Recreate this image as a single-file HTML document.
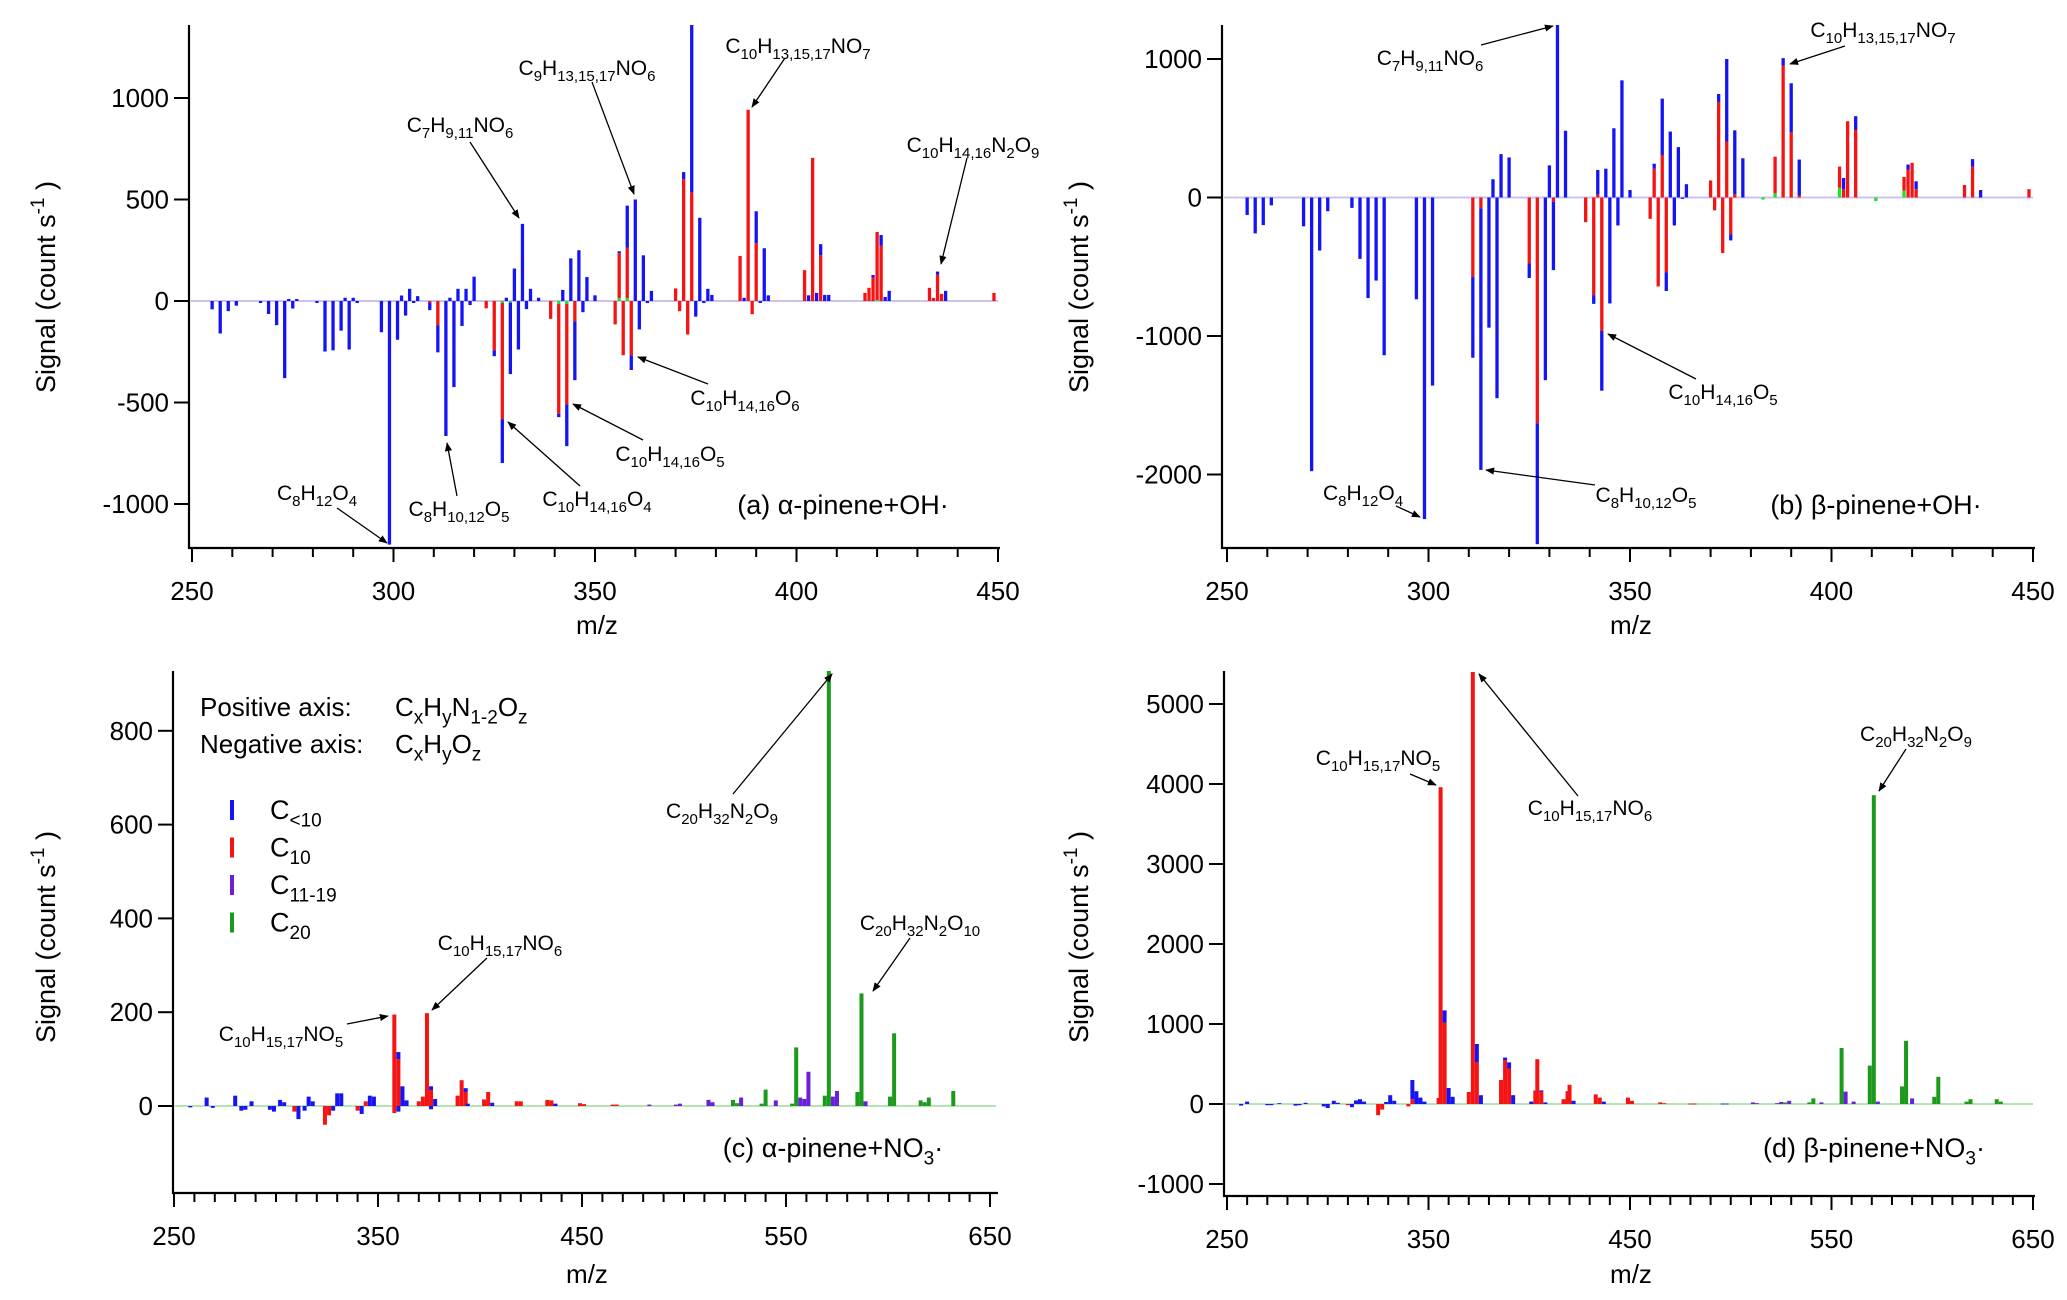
<!DOCTYPE html>
<html><head><meta charset="utf-8"><title>Mass spectra</title>
<style>
html,body{margin:0;padding:0;background:#fff;}
svg{display:block;font-family:"Liberation Sans",Arial,sans-serif;}
.ann{font-family:"Liberation Sans Narrow","Liberation Sans",sans-serif;}
</style></head>
<body>
<svg id="fig" width="2067" height="1300" viewBox="0 0 2067 1300" xmlns="http://www.w3.org/2000/svg">
<defs>
<marker id="ah" viewBox="0 0 10 10" refX="9" refY="5" markerWidth="9" markerHeight="9" orient="auto-start-reverse" markerUnits="userSpaceOnUse">
<path d="M0,1 L10,5 L0,9 Z" fill="#000"/>
</marker>
</defs>
</svg>
<script>
// ---------- panel (a) alpha-pinene + OH ----------
const aBlue = [[255,-41],[257,-160],[259,-50],[261,-23],[267,-10],[269,-64],[271,-119],[273,-380],[274,10],[275,-37],[276,10],[281,-10],[283,-249],[285,-243],[287,-146],[288,16],[289,-239],[290,16],[291,-10],[297,-154],[299,-1200],[301,-191],[302,27],[303,-72],[304,60],[305,-10],[306,24],[309,-35],[311,-134],[313,-665],[314,16],[315,-424],[316,60],[317,-123],[318,60],[319,-20],[320,120],[325,-29],[327,-216],[328,16],[329,-352],[330,160],[331,-239],[332,380],[333,-40],[334,60],[336,16],[341,-16],[342,55],[343,-206],[344,210],[345,-290],[346,250],[347,-55],[348,118],[350,28],[356,10],[358,208],[359,-73],[360,500],[361,-140],[362,225],[363,-10],[364,50],[372,35],[374,825],[375,-77],[376,410],[377,-10],[378,60],[379,30],[387,16],[390,157],[391,-10],[392,260],[393,28],[403,28],[405,40],[406,54],[407,30],[408,30],[419,13],[421,53],[422,20],[423,50],[435,15],[437,50]];
const aRed = [[309,-10],[311,-119],[323,-36],[325,-243],[327,-572],[339,-88],[341,-541],[343,-494],[345,-100],[355,-115],[356,220],[357,-267],[358,247],[359,-267],[370,62],[371,-50],[372,600],[373,-165],[374,535],[386,222],[388,942],[389,-65],[390,285],[402,152],[404,705],[406,226],[417,40],[418,65],[419,115],[420,335],[421,272],[433,65],[434,15],[435,130],[436,35],[449,40]];
const aPurple = [];
const aGreen = [[327,-10],[329,-8],[341,-15],[343,-15],[356,15],[358,15],[420,5]];
const aYTicks = [-1000,-500,0,500,1000];
const aXTicks = [250,300,350,400,450];

// ---------- panel (b) beta-pinene + OH ----------
const bBlue = [[255,-126],[257,-259],[259,-199],[261,-57],[269,-208],[271,-1976],[273,-383],[275,-99],[281,-75],[283,-443],[285,-726],[287,-600],[289,-1139],[297,-735],[299,-2322],[301,-1358],[311,-585],[313,-1889],[315,-940],[316,132],[317,-1449],[318,313],[320,289],[325,-105],[327,-873],[329,-1319],[330,232],[331,-494],[332,1247],[334,482],[341,-63],[342,179],[343,-431],[344,208],[345,-765],[346,500],[347,-202],[348,846],[350,54],[356,36],[358,407],[359,-136],[360,476],[361,-202],[362,364],[363,-10],[364,96],[372,57],[374,596],[375,-45],[376,461],[378,283],[388,54],[390,355],[392,259],[403,81],[406,99],[419,36],[421,57],[435,54],[437,54]];
const bRed = [[311,-572],[313,-78],[325,-476],[327,-1630],[331,-30],[339,-178],[341,-705],[342,20],[343,-964],[355,-154],[356,208],[357,-642],[358,307],[359,-539],[370,123],[371,-93],[372,690],[373,-401],[374,404],[375,-265],[376,24],[386,265],[388,952],[390,470],[392,15],[402,153],[403,60],[404,551],[406,488],[418,98],[419,202],[420,250],[421,60],[433,90],[435,223],[449,60]];
const bPurple = [];
const bGreen = [[383,-15],[386,30],[402,70],[411,-25],[418,50]];
const bYTicks = [-2000,-1000,0,1000];
const bXTicks = [250,300,350,400,450];

// ---------- panel (c) alpha-pinene + NO3 ----------
const cBlue = [[258,-3],[266,18],[269,-4],[280,22],[283,-10],[285,-8],[288,10],[297,-8],[299,-12],[302,13],[304,8],[311,-28],[314,-10],[316,20],[318,10],[328,-10],[330,27],[332,27],[342,-17],[346,22],[348,20],[360,15],[360,-12],[362,42],[364,12],[376,8],[376,-7],[378,15],[393,8],[394,5],[406,7],[437,5]];
const cRed = [[309,-12],[324,-40],[326,-20],[340,-10],[344,10],[358,195],[358,-15],[360,100],[370,10],[372,20],[374,198],[376,34],[389,22],[391,55],[393,30],[402,14],[404,30],[418,10],[420,10],[433,13],[435,12],[449,6],[451,4],[465,3],[467,3]];
const cPurple = [[483,3],[496,3],[498,5],[512,13],[514,8],[528,18],[545,12],[557,18],[559,15],[561,73],[573,20],[575,32],[589,10]];
const cGreen = [[524,13],[526,6],[538,5],[540,35],[553,5],[555,125],[569,22],[571,930],[585,30],[587,240],[601,20],[603,155],[616,12],[618,8],[620,18],[632,32]];
const cYTicks = [0,200,400,600,800];
const cXTicks = [250,350,450,550,650];

// ---------- panel (d) beta-pinene + NO3 ----------
const dBlue = [[257,-20],[260,30],[270,-15],[272,-15],[276,10],[284,-20],[286,-15],[289,15],[298,-30],[300,-50],[303,40],[305,15],[312,-40],[314,45],[316,60],[318,30],[329,25],[331,110],[333,40],[342,240],[344,160],[346,80],[348,30],[358,155],[360,200],[362,90],[374,230],[376,110],[388,33],[390,77],[392,110],[401,30],[406,14],[408,20],[422,40],[437,30]];
const dRed = [[310,-15],[325,-140],[327,-70],[340,-30],[342,60],[355,75],[356,3960],[358,1015],[370,150],[372,5400],[374,520],[386,300],[388,547],[390,443],[403,170],[404,560],[406,156],[417,60],[419,160],[420,240],[433,120],[435,80],[449,80],[451,40],[465,20],[467,10],[480,5],[482,5]];
const dPurple = [[496,5],[498,5],[511,20],[513,10],[523,10],[525,25],[529,40],[545,20],[557,155],[561,30],[573,30],[590,70]];
const dGreen = [[527,20],[539,20],[541,70],[555,700],[569,480],[571,3860],[585,220],[587,790],[601,90],[603,340],[617,30],[619,60],[632,60],[634,30]];
const dYTicks = [-1000,0,1000,2000,3000,4000,5000];
const dXTicks = [250,350,450,550,650];

const COL = {blue:'#1414f5', red:'#f51414', purple:'#6a20d8', greenA:'#22e022', greenC:'#1c9a1c'};
const NS = 'http://www.w3.org/2000/svg';
const svg = document.getElementById('fig');

function el(tag, attrs, parent){
  const e = document.createElementNS(NS, tag);
  for (const k in attrs) e.setAttribute(k, attrs[k]);
  (parent||svg).appendChild(e);
  return e;
}
function richText(parent, str, x, y, size, anchor){
  const t = el('text', {x:x, y:y, 'font-size':size, 'text-anchor':anchor||'middle', fill:'#000'}, parent);
  const re = /_\{([^}]*)\}|\^\{([^}]*)\}|([^_^]+)/g;
  let m, shift = 0;
  while ((m = re.exec(str))){
    const s = document.createElementNS(NS,'tspan');
    if (m[1] !== undefined){ s.setAttribute('font-size', Math.round(size*0.72)); s.setAttribute('dy', (size*0.28 - shift).toFixed(1)); shift = size*0.28; s.textContent = m[1]; }
    else if (m[2] !== undefined){ s.setAttribute('font-size', Math.round(size*0.72)); s.setAttribute('dy', (-size*0.4 - shift).toFixed(1)); shift = -size*0.4; s.textContent = m[2]; }
    else { s.setAttribute('dy', (-shift).toFixed(1)); shift = 0; s.textContent = m[3]; }
    t.appendChild(s);
  }
  return t;
}

function panel(cfg){
  const g = el('g', {});
  
  
  const xs = v => cfg.px0 + (v - cfg.m0) * (cfg.px1 - cfg.px0) / (cfg.m1 - cfg.m0);
  const ys = v => cfg.py0 - v * cfg.k;
  const clipId = 'clip-' + cfg.id;
  const cp = el('clipPath', {id: clipId}, g);
  el('rect', {x: cfg.left, y: cfg.top, width: cfg.right - cfg.left, height: cfg.bottom - cfg.top}, cp);

  const base = el('line', {x1: cfg.left+2, x2: cfg.right-2, y1: ys(0), y2: ys(0), stroke: cfg.baseColor, 'stroke-width': 2}, g);
  
  

  const bars = el('g', {'clip-path': 'url(#' + clipId + ')'}, g);
  
  
  const pos = {}, neg = {};
  cfg.series.forEach(s => {
    s.data.forEach(([mz, v]) => {
      const acc = v >= 0 ? pos : neg;
      const b0 = acc[mz] || 0, b1 = b0 + v;
      acc[mz] = b1;
      const yA = ys(Math.max(b0, b1)), yB = ys(Math.min(b0, b1));
      const r = el('rect', {x: (xs(mz) - cfg.bw/2).toFixed(2), y: yA.toFixed(2), width: cfg.bw, height: Math.max(0.8, yB - yA).toFixed(2), fill: s.color}, bars);
      
      
    });
  });

  const ax = el('path', {d: `M${cfg.left},${cfg.top} L${cfg.left},${cfg.bottom} L${cfg.right},${cfg.bottom}`, fill: 'none', stroke: '#000', 'stroke-width': 2.2}, g);
  
  

  cfg.yTicks.forEach(v => {
    const y = ys(v);
    el('line', {x1: cfg.left - 15, x2: cfg.left, y1: y, y2: y, stroke: '#000', 'stroke-width': 2}, g);
    const t = el('text', {x: cfg.left - 20, y: y + 9, 'font-size': 26, 'text-anchor': 'end', fill: '#000'}, g);
    
    
    t.textContent = v;
  });
  for (let v = cfg.m0; v <= cfg.m1 + 0.01; v += cfg.minor){
    const x = xs(v);
    const major = cfg.xTicks.some(t => Math.abs(t - v) < 0.01);
    el('line', {x1: x, x2: x, y1: cfg.bottom, y2: cfg.bottom + (major ? 14 : 9), stroke: '#000', 'stroke-width': 2}, g);
  }
  cfg.xTicks.forEach(v => {
    const t = el('text', {x: xs(v), y: cfg.bottom + 52, 'font-size': 26, 'text-anchor': 'middle', fill: '#000'}, g);
    
    
    t.textContent = v;
  });
  const xt = el('text', {x: cfg.xtX, y: cfg.xtY, 'font-size': 26, 'text-anchor': 'middle', fill: '#000'}, g);
  
  
  xt.textContent = 'm/z';
  const ytg = el('g', {transform: `translate(${cfg.ytX},${cfg.ytY}) rotate(-90)`}, g);
  const yt = richText(ytg, 'Signal (count s^{-1} )', 0, 0, 27, 'middle');
  
  

  const pl = richText(g, cfg.label, cfg.labelX, cfg.labelY, 27, 'middle');
  
  

  cfg.anns.forEach(a => {
    const t = richText(g, a.t, a.x, a.y, 21, 'middle');
    t.setAttribute('class', 'ann');
    
    
    const l = el('line', {x1: a.ax1, y1: a.ay1, x2: a.ax2, y2: a.ay2, stroke: '#000', 'stroke-width': 1.3, 'marker-end': 'url(#ah)'}, g);
    
    
  });
  return g;
}

panel({id:'a', name:'panel-a-alpha-pinene-oh', left:189, right:1000, top:25, bottom:548, px0:192, px1:998, m0:250, m1:450, minor:10, py0:301, k:0.203, bw:3.3,
  baseColor:'#cbc3ee', yTicks:aYTicks, xTicks:aXTicks, xtX:597, xtY:634, ytX:55, ytY:287,
  series:[{key:'c20',data:aGreen,color:COL.greenA},{key:'c11-19',data:aPurple,color:COL.purple},{key:'c10',data:aRed,color:COL.red},{key:'c-lt-10',data:aBlue,color:COL.blue}],
  label:'(a) α-pinene+OH·', labelX:843, labelY:514,
  anns:[
    {t:'C_{7}H_{9,11}NO_{6}', x:460, y:132, ax1:470, ay1:142, ax2:519, ay2:218},
    {t:'C_{9}H_{13,15,17}NO_{6}', x:587, y:75, ax1:592, ay1:82, ax2:634, ay2:194},
    {t:'C_{10}H_{13,15,17}NO_{7}', x:798, y:53, ax1:785, ay1:58, ax2:752, ay2:107},
    {t:'C_{10}H_{14,16}N_{2}O_{9}', x:973, y:152, ax1:967, ay1:158, ax2:941, ay2:264},
    {t:'C_{10}H_{14,16}O_{6}', x:745, y:405, ax1:708, ay1:384, ax2:638, ay2:357},
    {t:'C_{10}H_{14,16}O_{5}', x:670, y:461, ax1:643, ay1:440, ax2:573, ay2:404},
    {t:'C_{10}H_{14,16}O_{4}', x:597, y:506, ax1:580, ay1:486, ax2:508, ay2:422},
    {t:'C_{8}H_{10,12}O_{5}', x:459, y:516, ax1:457, ay1:496, ax2:447, ay2:443},
    {t:'C_{8}H_{12}O_{4}', x:317, y:500, ax1:337, ay1:508, ax2:387, ay2:543}
  ]});

panel({id:'b', name:'panel-b-beta-pinene-oh', left:1222, right:2035, top:25, bottom:548, px0:1227, px1:2033, m0:250, m1:450, minor:10, py0:197.5, k:0.1385, bw:3.3,
  baseColor:'#cbc3ee', yTicks:bYTicks, xTicks:bXTicks, xtX:1631, xtY:634, ytX:1088, ytY:287,
  series:[{key:'c20',data:bGreen,color:COL.greenA},{key:'c11-19',data:bPurple,color:COL.purple},{key:'c10',data:bRed,color:COL.red},{key:'c-lt-10',data:bBlue,color:COL.blue}],
  label:'(b) β-pinene+OH·', labelX:1876, labelY:514,
  anns:[
    {t:'C_{7}H_{9,11}NO_{6}', x:1430, y:65, ax1:1481, ay1:45, ax2:1553, ay2:26},
    {t:'C_{10}H_{13,15,17}NO_{7}', x:1883, y:37, ax1:1845, ay1:46, ax2:1790, ay2:64},
    {t:'C_{10}H_{14,16}O_{5}', x:1723, y:399, ax1:1696, ay1:379, ax2:1608, ay2:334},
    {t:'C_{8}H_{10,12}O_{5}', x:1646, y:502, ax1:1595, ay1:485, ax2:1486, ay2:470},
    {t:'C_{8}H_{12}O_{4}', x:1363, y:500, ax1:1396, ay1:506, ax2:1420, ay2:517}
  ]});

panel({id:'c', name:'panel-c-alpha-pinene-no3', left:173, right:998, top:671, bottom:1193, px0:174, px1:990, m0:250, m1:650, minor:10, py0:1106, k:0.469, bw:4,
  baseColor:'#b6e3b6', yTicks:cYTicks, xTicks:cXTicks, xtX:587, xtY:1283, ytX:55, ytY:937,
  series:[{key:'c20',data:cGreen,color:COL.greenC},{key:'c11-19',data:cPurple,color:COL.purple},{key:'c10',data:cRed,color:COL.red},{key:'c-lt-10',data:cBlue,color:COL.blue}],
  label:'(c) α-pinene+NO_{3}·', labelX:833, labelY:1157,
  anns:[
    {t:'C_{20}H_{32}N_{2}O_{9}', x:722, y:818, ax1:733, ay1:794, ax2:832, ay2:674},
    {t:'C_{20}H_{32}N_{2}O_{10}', x:920, y:930, ax1:910, ay1:938, ax2:873, ay2:991},
    {t:'C_{10}H_{15,17}NO_{6}', x:500, y:950, ax1:487, ay1:958, ax2:432, ay2:1010},
    {t:'C_{10}H_{15,17}NO_{5}', x:281, y:1041, ax1:347, ay1:1024, ax2:388, ay2:1016}
  ]});

panel({id:'d', name:'panel-d-beta-pinene-no3', left:1224, right:2035, top:671, bottom:1196, px0:1227, px1:2033, m0:250, m1:650, minor:10, py0:1104, k:0.08, bw:4,
  baseColor:'#b6e3b6', yTicks:dYTicks, xTicks:dXTicks, xtX:1631, xtY:1283, ytX:1088, ytY:937,
  series:[{key:'c20',data:dGreen,color:COL.greenC},{key:'c11-19',data:dPurple,color:COL.purple},{key:'c10',data:dRed,color:COL.red},{key:'c-lt-10',data:dBlue,color:COL.blue}],
  label:'(d) β-pinene+NO_{3}·', labelX:1874, labelY:1157,
  anns:[
    {t:'C_{10}H_{15,17}NO_{5}', x:1378, y:765, ax1:1410, ay1:774, ax2:1436, ay2:785},
    {t:'C_{10}H_{15,17}NO_{6}', x:1590, y:815, ax1:1578, ay1:796, ax2:1479, ay2:674},
    {t:'C_{20}H_{32}N_{2}O_{9}', x:1916, y:741, ax1:1906, ay1:749, ax2:1879, ay2:791}
  ]});

// legend + axis note in panel c
const leg = el('g', {});


const n1a = richText(leg, 'Positive axis:', 200, 716, 26, 'start');


const n1b = richText(leg, 'C_{x}H_{y}N_{1-2}O_{z}', 395, 716, 26, 'start');


const n2a = richText(leg, 'Negative axis:', 200, 753, 26, 'start');


const n2b = richText(leg, 'C_{x}H_{y}O_{z}', 395, 753, 26, 'start');


const legendLabels = ['C_{<10}', 'C_{10}', 'C_{11-19}', 'C_{20}'];
const legendColors = [COL.blue, COL.red, COL.purple, COL.greenC];
legendLabels.forEach((lab, i) => {
  const y = 810 + i * 37.5;
  const sw = el('rect', {x: 230, y: y - 10, width: 4, height: 20, fill: legendColors[i]}, leg);
  
  
  const t = richText(leg, lab, 270, y + 9, 27, 'start');
  
  
});
</script>
</body></html>
